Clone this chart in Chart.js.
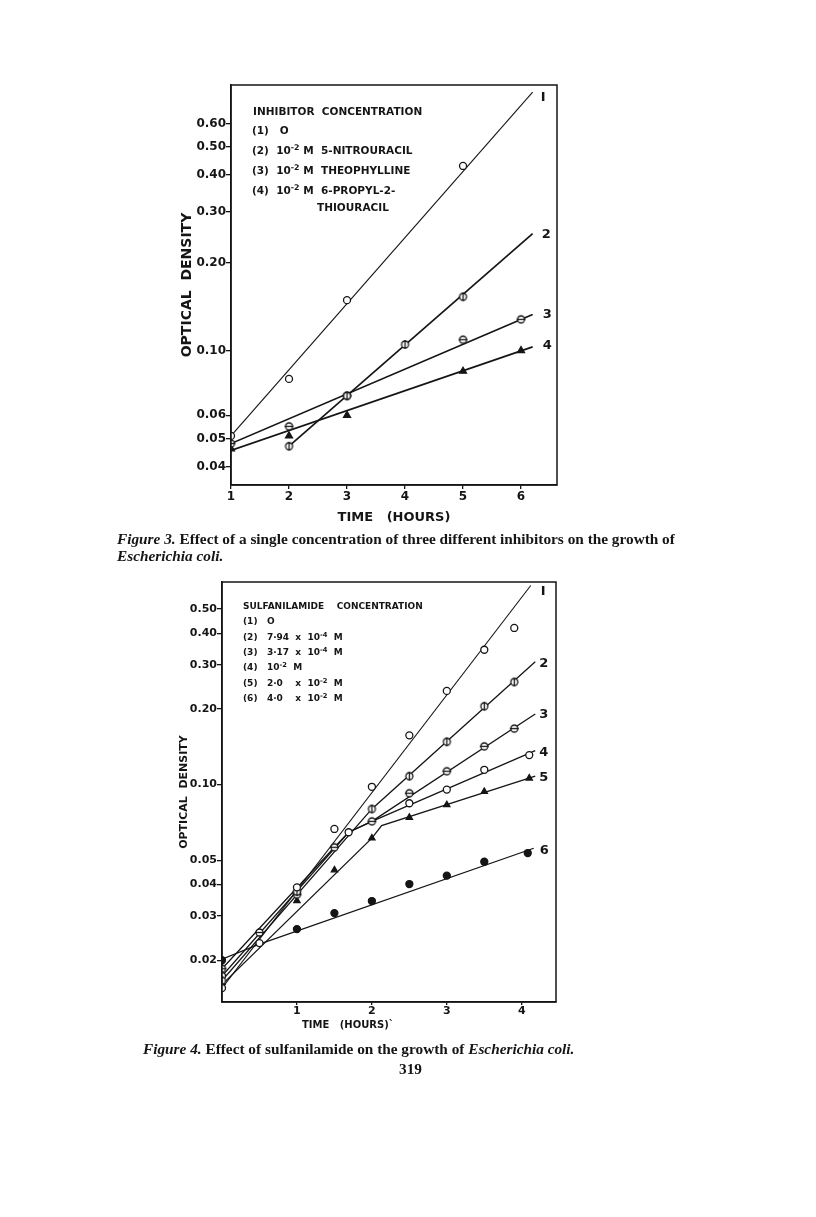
<!DOCTYPE html>
<html>
<head>
<meta charset="utf-8">
<script src="https://cdn.jsdelivr.net/npm/chart.js@4.4.0/dist/chart.umd.min.js"></script>
<style>
  body { margin: 0; background: #fff; width: 816px; height: 1217px; position: relative; overflow: hidden; }
  .plot { position: absolute; }
  .lg { position: absolute; font: bold 10.5px "DejaVu Sans"; color: #151515; white-space: pre; line-height: 12px; }
  .lg4 { font-size: 9px; }
  .lg sup { font-size: 0.75em; vertical-align: 0; position: relative; top: -0.5em; }
  .cap { position: absolute; font: bold 15.3px "Liberation Serif"; color: #151515; white-space: nowrap; }
  .ax { position: absolute; font: bold 10px "DejaVu Sans"; color: #151515; white-space: pre; }
</style>
</head>
<body>

<div class="plot" style="left:150px;top:60px"><canvas id="fig3" width="430" height="480"></canvas></div>
<div class="plot" style="left:140px;top:560px"><canvas id="fig4" width="440" height="490"></canvas></div>

<!-- figure 3 key -->
<div class="lg" style="left:253px;top:105px">INHIBITOR  CONCENTRATION</div>
<div class="lg" style="left:252px;top:124px">(1)   O</div>
<div class="lg" style="left:252px;top:144px">(2)  10<sup>-2</sup> M  5-NITROURACIL</div>
<div class="lg" style="left:252px;top:164px">(3)  10<sup>-2</sup> M  THEOPHYLLINE</div>
<div class="lg" style="left:252px;top:184px">(4)  10<sup>-2</sup> M  6-PROPYL-2-</div>
<div class="lg" style="left:317px;top:201px">THIOURACIL</div>

<!-- figure 4 key -->
<div class="lg lg4" style="left:243px;top:600px">SULFANILAMIDE    CONCENTRATION</div>
<div class="lg lg4" style="left:243px;top:615px">(1)   O</div>
<div class="lg lg4" style="left:243px;top:631px">(2)   7·94  x  10<sup>-4</sup>  M</div>
<div class="lg lg4" style="left:243px;top:646px">(3)   3·17  x  10<sup>-4</sup>  M</div>
<div class="lg lg4" style="left:243px;top:661px">(4)   10<sup>-2</sup>  M</div>
<div class="lg lg4" style="left:243px;top:677px">(5)   2·0    x  10<sup>-2</sup>  M</div>
<div class="lg lg4" style="left:243px;top:692px">(6)   4·0    x  10<sup>-2</sup>  M</div>
<div class="ax" style="left:302px;top:1019px">TIME   (HOURS)`</div>

<div class="cap" style="left:117px;top:530px"><i>Figure 3.</i> Effect of a single concentration of three different inhibitors on the growth of</div>
<div class="cap" style="left:117px;top:547px"><i>Escherichia coli.</i></div>
<div class="cap" style="left:143px;top:1040px"><i>Figure 4.</i> Effect of sulfanilamide on the growth of <i>Escherichia coli.</i></div>
<div class="cap" style="left:399px;top:1060px">319</div>

<script>
const INK = "#151515";

// ---- Figure 3: one concentration of three inhibitors ----
const f3HourTicks = [1, 2, 3, 4, 5, 6];
const f3OdTicks = [0.04, 0.05, 0.06, 0.1, 0.2, 0.3, 0.4, 0.5, 0.6];

const f3NoneT = [1, 2, 3, 5];
const f3NoneOD = [0.051, 0.08, 0.149, 0.43];
const f3NitroT = [2, 3, 4, 5];
const f3NitroOD = [0.047, 0.07, 0.105, 0.153];
const f3TheoT = [1, 2, 3, 5, 6];
const f3TheoOD = [0.048, 0.055, 0.07, 0.109, 0.128];
const f3PropT = [1, 2, 3, 5, 6];
const f3PropOD = [0.046, 0.051, 0.06, 0.085, 0.1];

// lines as drawn on the figure (hours, OD)
const f3Line1 = [[1, 0.051], [6.2, 0.77]];
const f3Line2 = [[2, 0.047], [6.2, 0.252]];
const f3Line3 = [[1, 0.048], [6.2, 0.133]];
const f3Line4 = [[1, 0.0455], [6.2, 0.103]];

// ---- Figure 4: sulfanilamide ----
const f4HourTicks = [1, 2, 3, 4];
const f4OdTicks = [0.02, 0.03, 0.04, 0.05, 0.1, 0.2, 0.3, 0.4, 0.5];

const f4S1T = [0, 0.5, 1, 1.5, 2, 2.5, 3, 3.5, 3.9];
const f4S1OD = [0.0155, 0.0234, 0.039, 0.0666, 0.098, 0.157, 0.236, 0.344, 0.42];
const f4S2T = [0, 1, 2, 2.5, 3, 3.5, 3.9];
const f4S2OD = [0.0166, 0.0375, 0.08, 0.108, 0.148, 0.205, 0.256];
const f4S3T = [0, 0.5, 1, 1.5, 2, 2.5, 3, 3.5, 3.9];
const f4S3OD = [0.0185, 0.0258, 0.0365, 0.0563, 0.0714, 0.0924, 0.113, 0.142, 0.167];
const f4S4T = [0, 1, 1.69, 2.5, 3, 3.5, 4.1];
const f4S4OD = [0.0173, 0.037, 0.0646, 0.0843, 0.0955, 0.1145, 0.131];
const f4S5T = [0, 1, 1.5, 2, 2.5, 3, 3.5, 4.1];
const f4S5OD = [0.0163, 0.0345, 0.0457, 0.0612, 0.074, 0.083, 0.0938, 0.106];
const f4S6T = [0, 1, 1.5, 2, 2.5, 3, 3.5, 4.08];
const f4S6OD = [0.02, 0.0266, 0.0308, 0.0344, 0.0402, 0.0434, 0.0493, 0.0534];

const f4Line1 = [[0, 0.0155], [4.12, 0.62]];
const f4Line2 = [[0, 0.0166], [2, 0.08], [4.18, 0.308]];
const f4Line3 = [[0, 0.0185], [1.5, 0.0563], [1.69, 0.0646], [2, 0.0714], [4.18, 0.191]];
const f4Line4 = [[0, 0.0173], [1.69, 0.0646], [2, 0.0714], [4.18, 0.1366]];
const f4Line5 = [[0, 0.016], [2, 0.0612], [2.13, 0.0687], [4.18, 0.108]];
const f4Line6 = [[0, 0.0202], [0.5, 0.0232], [4.16, 0.0558]];

// small hand-drawn markers
function mark(kind) {
  const c = document.createElement("canvas");
  c.width = 11; c.height = 11;
  const g = c.getContext("2d");
  g.lineWidth = 1.3;
  g.strokeStyle = INK;
  g.fillStyle = "#fff";
  g.beginPath(); g.arc(5.5, 5.5, 3.5, 0, Math.PI * 2); g.fill(); g.stroke();
  g.beginPath();
  if (kind === "v") { g.moveTo(5.5, 1); g.lineTo(5.5, 10); }
  else { g.moveTo(1, 5.5); g.lineTo(10, 5.5); }
  g.stroke();
  return c;
}
const barV = mark("v");
const barH = mark("h");

const pts = (ts, vs) => ts.map((t, i) => ({ x: t, y: vs[i] }));
const seg = (arr) => arr.map((p) => ({ x: p[0], y: p[1] }));

function marks(data, style, fill, r) {
  return { data, showLine: false, pointStyle: style, pointRadius: r || 3.5,
    backgroundColor: fill, borderColor: INK, pointBorderWidth: 1.3, order: 0 };
}
function fit(data, label, w, dx, dy) {
  return { data, showLine: true, pointRadius: 0, borderColor: INK, borderWidth: w,
    order: 1, curveLabel: label, dx: dx, dy: dy };
}

// closes the box and writes the curve numbers at line ends
const framePlugin = {
  id: "frame",
  afterDatasetsDraw(chart, args, opts) {
    const { ctx, chartArea: a } = chart;
    ctx.save();
    ctx.strokeStyle = INK;
    ctx.lineWidth = 1.5;
    ctx.strokeRect(a.left, a.top, a.right - a.left, a.bottom - a.top);
    ctx.fillStyle = INK;
    ctx.font = opts.font;
    ctx.textBaseline = "middle";
    chart.data.datasets.forEach((ds, i) => {
      if (!ds.curveLabel) return;
      const els = chart.getDatasetMeta(i).data;
      const end = els[els.length - 1];
      ctx.fillText(ds.curveLabel, end.x + ds.dx, end.y + ds.dy);
    });
    ctx.restore();
  },
};

function axes(o) {
  return {
    x: {
      type: "linear", min: o.xMin, max: o.xMax,
      afterBuildTicks: (s) => { s.ticks = o.xTicks.map((v) => ({ value: v })); },
      afterFit: (s) => { s.height = o.xH; },
      ticks: { color: INK, font: { family: "DejaVu Sans", weight: "bold", size: o.xTickSize }, padding: o.xTickPad,
        maxRotation: 0, callback: (v) => String(v) },
      grid: { drawOnChartArea: false, tickLength: o.xTickLen, color: INK, lineWidth: 1.3 },
      border: { color: INK, width: 1.5 },
      title: { display: !!o.xTitle, text: o.xTitle, color: INK,
        font: { family: "DejaVu Sans", weight: "bold", size: o.xTitleSize },
        padding: { top: 0, bottom: o.xTitlePad } },
    },
    y: {
      type: "logarithmic", min: o.yMin, max: o.yMax,
      afterBuildTicks: (s) => { s.ticks = o.yTicks.map((v) => ({ value: v })); },
      afterFit: (s) => { s.width = o.yW; },
      ticks: { color: INK, font: { family: "DejaVu Sans", weight: "bold", size: o.yTickSize }, padding: 0,
        callback: (v) => Number(v).toFixed(2) },
      grid: { drawOnChartArea: false, tickLength: 5, color: INK, lineWidth: 1.3 },
      border: { color: INK, width: 1.5 },
      title: { display: true, text: "OPTICAL  DENSITY", color: INK,
        font: { family: "DejaVu Sans", weight: "bold", size: o.yTitleSize },
        padding: { top: o.yTitlePad, bottom: 0 } },
    },
  };
}

function build(id, datasets, o) {
  return new Chart(document.getElementById(id), {
    type: "scatter",
    data: { datasets },
    options: {
      responsive: false, animation: false, devicePixelRatio: 1,
      layout: { padding: o.pad },
      scales: axes(o),
      plugins: { legend: { display: false }, tooltip: { enabled: false },
        frame: { font: "bold 13px DejaVu Sans" } },
    },
    plugins: [framePlugin],
  });
}

build("fig3", [
  marks(pts(f3NoneT, f3NoneOD), "circle", "#fff"),
  marks(pts(f3NitroT, f3NitroOD), barV),
  marks(pts(f3TheoT, f3TheoOD), barH),
  marks(pts(f3PropT, f3PropOD), "triangle", INK, 4),
  fit(seg(f3Line1), "I", 1.1, 8, 5),
  fit(seg(f3Line2), "2", 1.7, 9, 1),
  fit(seg(f3Line3), "3", 1.7, 10, 0),
  fit(seg(f3Line4), "4", 1.7, 10, -1),
], {
  pad: { left: 0, right: 23, top: 25, bottom: 0 },
  xMin: 1, xMax: 6.62, xTicks: f3HourTicks, xH: 55, xTickSize: 12, xTickPad: 1, xTickLen: 4,
  xTitle: "TIME   (HOURS)", xTitleSize: 13, xTitlePad: 15,
  yMin: 0.0346, yMax: 0.815, yTicks: f3OdTicks, yW: 81, yTickSize: 12, yTitleSize: 14, yTitlePad: 29,
});

build("fig4", [
  marks(pts(f4S1T, f4S1OD), "circle", "#fff"),
  marks(pts(f4S2T, f4S2OD), barV),
  marks(pts(f4S3T, f4S3OD), barH),
  marks(pts(f4S4T, f4S4OD), "circle", "#fff"),
  marks(pts(f4S5T, f4S5OD), "triangle", INK, 3.6),
  marks(pts(f4S6T, f4S6OD), "circle", INK),
  fit(seg(f4Line1), "I", 1.1, 10, 6),
  fit(seg(f4Line2), "2", 1.3, 4, 2),
  fit(seg(f4Line3), "3", 1.3, 4, 1),
  fit(seg(f4Line4), "4", 1.3, 4, 2),
  fit(seg(f4Line5), "5", 1.3, 4, 1),
  fit(seg(f4Line6), "6", 1.3, 6, 2),
], {
  pad: { left: 0, right: 24, top: 22, bottom: 0 },
  xMin: 0, xMax: 4.457, xTicks: f4HourTicks, xH: 48, xTickSize: 11, xTickPad: 0, xTickLen: 3,
  xTitle: "",
  yMin: 0.01364, yMax: 0.64, yTicks: f4OdTicks, yW: 82, yTickSize: 11, yTitleSize: 11, yTitlePad: 38,
});
</script>
</body>
</html>
